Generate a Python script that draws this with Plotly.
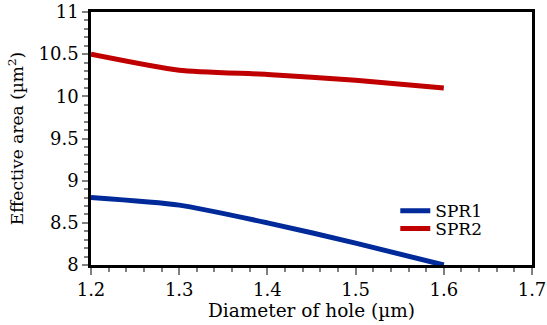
import plotly.graph_objects as go

diameter = [1.2, 1.3, 1.4, 1.5, 1.6]
spr1 = [8.80, 8.71, 8.50, 8.26, 8.00]
spr2 = [10.50, 10.31, 10.26, 10.19, 10.10]

FONT = "DejaVu Serif"

fig = go.Figure()
fig.add_trace(go.Scatter(x=diameter, y=spr1, mode="lines", name="SPR1", legend="legend",
                         line=dict(color="#002a9a", width=5, shape="spline", smoothing=0.6)))
fig.add_trace(go.Scatter(x=diameter, y=spr2, mode="lines", name="SPR2", legend="legend2",
                         line=dict(color="#c00000", width=5, shape="spline", smoothing=0.6)))

leg_common = dict(xanchor="left", yanchor="middle", bgcolor="rgba(0,0,0,0)",
                  font=dict(size=17, family=FONT), itemwidth=30)
fig.update_layout(
    width=547, height=325,
    margin=dict(l=91, r=15, t=12, b=60, autoexpand=False),
    paper_bgcolor="white", plot_bgcolor="white",
    font=dict(family=FONT, size=17, color="black"),
    legend=dict(x=0.69, y=0.213, **leg_common),
    legend2=dict(x=0.69, y=0.142, **leg_common),
    showlegend=True,
)
fig.update_xaxes(
    range=[1.2, 1.7], dtick=0.1, tick0=1.2, tickformat=".1f",
    showgrid=False, zeroline=False, automargin=False,
    showline=True, linecolor="black", linewidth=2.5, mirror=True,
    ticks="outside", ticklen=7, tickcolor="#808080", tickwidth=1.5,
    minor=dict(dtick=0.02, ticks="outside", ticklen=4, tickcolor="#808080", tickwidth=1.5),
    title=dict(text="Diameter of hole (µm)", font=dict(size=18.5, family=FONT), standoff=2),
    tickfont=dict(size=18, family=FONT),
)
fig.update_yaxes(
    range=[8, 11], dtick=0.5, tick0=8,
    showgrid=False, zeroline=False, automargin=False,
    showline=True, linecolor="black", linewidth=2.5, mirror=True,
    ticks="outside", ticklen=6, tickcolor="#808080", tickwidth=1.5,
    minor=dict(dtick=0.1, ticks="outside", ticklen=4, tickcolor="#808080", tickwidth=1.5),
    title=dict(text="Effective area (µm<sup>2</sup>)", font=dict(size=17, family=FONT), standoff=11),
    tickfont=dict(size=18, family=FONT),
)

fig.write_html("out.html", config={"displayModeBar": False},
               post_script="document.body.style.margin='0';")
